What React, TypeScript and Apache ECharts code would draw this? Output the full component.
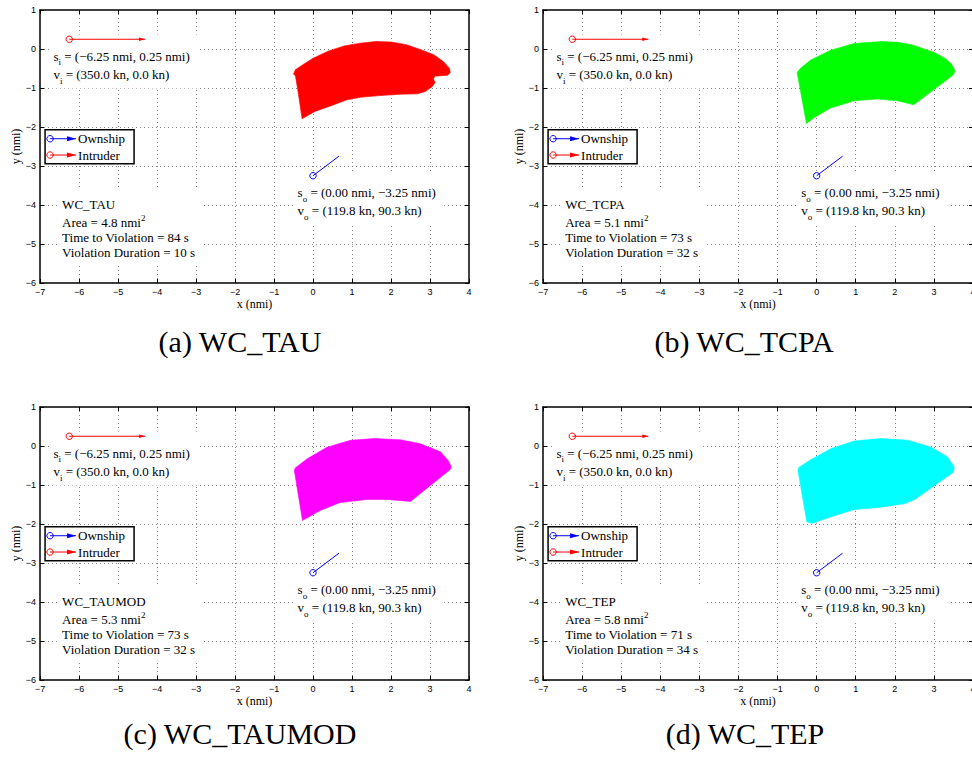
import React, { useEffect, useRef } from 'react';
import * as echarts from 'echarts';

// ---------------- data ----------------
const PANEL_LETTERS = ['a', 'b', 'c', 'd'];
const PANEL_NAMES = ['WC_TAU', 'WC_TCPA', 'WC_TAUMOD', 'WC_TEP'];
const AREAS = [4.8, 5.1, 5.3, 5.8];
const TIME_TO_VIOLATION = [84, 73, 73, 71];
const VIOLATION_DURATION = [10, 32, 32, 34];
const REGION_COLORS = ['#ff0000', '#00ff00', '#ff00ff', '#00ffff'];

const REGION_TAU = [
  [-0.50, -0.64], [-0.45, -0.53], [-0.24, -0.39], [0.0, -0.24], [0.40, -0.05], [0.80, 0.08],
  [1.21, 0.15], [1.60, 0.19], [2.00, 0.18], [2.40, 0.11], [2.80, -0.03], [3.10, -0.15],
  [3.35, -0.33], [3.50, -0.50], [3.52, -0.60], [3.46, -0.67], [3.12, -0.70], [3.09, -0.77],
  [3.13, -0.86], [3.06, -0.96], [2.88, -1.09], [2.68, -1.15], [2.24, -1.16], [1.64, -1.20],
  [1.21, -1.24], [0.85, -1.31], [0.45, -1.46], [0.05, -1.60], [-0.28, -1.79], [-0.39, -1.05],
  [-0.45, -0.69],
];
const REGION_TCPA = [
  [-0.50, -0.60], [-0.42, -0.50], [-0.15, -0.28], [0.36, -0.03], [0.96, 0.14], [1.64, 0.19],
  [2.10, 0.17], [2.50, 0.09], [3.01, -0.09], [3.30, -0.25], [3.46, -0.40], [3.54, -0.56],
  [3.50, -0.66], [2.48, -1.43], [2.07, -1.33], [1.56, -1.28], [0.96, -1.33], [0.36, -1.51],
  [-0.07, -1.76], [-0.26, -1.91],
];
const REGION_TAUMOD = [
  [-0.48, -0.62], [-0.45, -0.56], [-0.15, -0.33], [0.36, -0.03], [0.96, 0.145], [1.56, 0.19],
  [2.24, 0.16], [2.75, 0.06], [3.27, -0.15], [3.47, -0.38], [3.54, -0.52], [3.52, -0.60],
  [2.50, -1.42], [1.90, -1.37], [1.39, -1.37], [0.70, -1.45], [0.19, -1.65], [-0.27, -1.91],
];
const REGION_TEP = [
  [-0.48, -0.62], [-0.46, -0.55], [-0.15, -0.35], [0.36, -0.07], [0.96, 0.13], [1.64, 0.19],
  [2.33, 0.15], [2.93, -0.03], [3.35, -0.28], [3.52, -0.54], [3.50, -0.67], [2.50, -1.38],
  [2.24, -1.48], [1.64, -1.57], [0.96, -1.63], [0.36, -1.82], [-0.11, -1.98], [-0.25, -1.95],
];
const REGIONS = [REGION_TAU, REGION_TCPA, REGION_TAUMOD, REGION_TEP];

const INTRUDER_POS = [-6.25, 0.25];
const INTRUDER_VEL = [350.0, 0.0];
const OWNSHIP_POS = [0.0, -3.25];
const OWNSHIP_VEL = [119.8, 90.3];
const VELOCITY_SECONDS = 20;
const LEGEND_LABELS = ['Ownship', 'Intruder'];

const X_MIN = -7, X_MAX = 4, Y_MIN = -6, Y_MAX = 1, TICK_STEP = 1;

// annotation anchors (data coordinates, top-left of the text boxes)
const INTRUDER_NOTE_AT = [-6.74, 0.37];
const OWNSHIP_NOTE_AT = [-0.48, -3.14];
const RESULT_NOTE_AT = [-6.51, -3.56];
const LEGEND_AT = [-6.87, -2.07];

// ---------------- layout / style ----------------
const GRID_POS = [[40, 10], [543, 10], [40, 407], [543, 407]];
const GRID_W = [429, 430, 429, 430];
const GRID_H = 273;
const CAPTION_POS = [[240, 341.5], [744, 341.5], [240, 733], [745, 733]];
const SERIF = '"Liberation Serif", "Times New Roman", serif';
const SANS = '"Liberation Sans", Arial, sans-serif';
const BLUE = '#0000ff';
const RED = '#ff0000';

const fmt = (v: number, d: number) => (v < 0 ? '\u2212' : '') + Math.abs(v).toFixed(d);
const tickFmt = (v: number) => (v < 0 ? '\u2212' + Math.abs(v) : String(v));

const RICH: any = {
  m: { fontFamily: SERIF, fontSize: 13, lineHeight: 18, fill: '#000', color: '#000' },
  sub: { fontFamily: SERIF, fontSize: 9, lineHeight: 18, padding: [12, 0, 0, 0], fill: '#000', color: '#000' },
  sup: { fontFamily: SERIF, fontSize: 9, lineHeight: 18, padding: [0, 0, 9, 0], fill: '#000', color: '#000' },
};

function textEl(x: number, y: number, text: string) {
  return {
    type: 'text',
    x,
    y,
    style: {
      text,
      rich: RICH,
      fill: '#000',
      fontFamily: SERIF,
      fontSize: 13,
      align: 'left',
      verticalAlign: 'middle',
      textAlign: 'left',
      textVerticalAlign: 'middle',
    },
  };
}

function noteLines(i: number, kind: number): string[] {
  if (kind === 0) {
    return [
      `{m|s}{sub|i}{m| = (${fmt(INTRUDER_POS[0], 2)} nmi, ${fmt(INTRUDER_POS[1], 2)} nmi)}`,
      `{m|v}{sub|i}{m| = (${fmt(INTRUDER_VEL[0], 1)} kn, ${fmt(INTRUDER_VEL[1], 1)} kn)}`,
    ];
  }
  if (kind === 1) {
    return [
      `{m|s}{sub|o}{m| = (${fmt(OWNSHIP_POS[0], 2)} nmi, ${fmt(OWNSHIP_POS[1], 2)} nmi)}`,
      `{m|v}{sub|o}{m| = (${fmt(OWNSHIP_VEL[0], 1)} kn, ${fmt(OWNSHIP_VEL[1], 1)} kn)}`,
    ];
  }
  return [
    `{m|${PANEL_NAMES[i]}}`,
    `{m|Area = ${AREAS[i].toFixed(1)} nmi}{sup|2}`,
    `{m|Time to Violation = ${TIME_TO_VIOLATION[i]} s}`,
    `{m|Violation Duration = ${VIOLATION_DURATION[i]} s}`,
  ];
}

const NOTE_BOX = [
  { w: 150, h: 54, tx: 3.3, ty: [21.5, 40] },
  { w: 150, h: 54, tx: 3.3, ty: [21.5, 39.5] },
  { w: 144, h: 78, tx: 3, ty: [17, 35, 50, 65] },
];

function arrowHead(ex: number, ey: number, ux: number, uy: number, len: number, half: number) {
  return [
    [ex, ey],
    [ex - ux * len - uy * half, ey - uy * len + ux * half],
    [ex - ux * len + uy * half, ey - uy * len - ux * half],
  ];
}

function buildOption() {
  const grid: any[] = [];
  const xAxis: any[] = [];
  const yAxis: any[] = [];
  const series: any[] = [];
  const axisLine = { show: true, onZero: false, lineStyle: { color: '#000', width: 1.5 } };
  const axisTick = { show: true, inside: true, length: 4, lineStyle: { color: '#000', width: 1 } };
  const splitLine = {
    show: true,
    showMinLine: false,
    showMaxLine: false,
    lineStyle: { color: '#808080', type: [1, 3], width: 1 },
  };
  const label = { show: true, formatter: tickFmt, fontFamily: SANS, fontSize: 9, color: '#000', margin: 4 };

  for (let i = 0; i < 4; i++) {
    grid.push({
      left: GRID_POS[i][0], top: GRID_POS[i][1], width: GRID_W[i], height: GRID_H,
      containLabel: false, outerBoundsMode: 'none',
    });
    xAxis.push({
      gridIndex: i, type: 'value', min: X_MIN, max: X_MAX, interval: TICK_STEP, position: 'bottom',
      axisLine, axisTick, axisLabel: label, splitLine,
      name: 'x (nmi)', nameLocation: 'middle', nameGap: 15,
      nameTextStyle: { fontFamily: SERIF, fontSize: 12, color: '#000' },
    });
    xAxis.push({
      gridIndex: i, type: 'value', min: X_MIN, max: X_MAX, interval: TICK_STEP, position: 'top',
      axisLine, axisTick, axisLabel: { show: false }, splitLine: { show: false },
    });
    yAxis.push({
      gridIndex: i, type: 'value', min: Y_MIN, max: Y_MAX, interval: TICK_STEP, position: 'left',
      axisLine, axisTick, axisLabel: label, splitLine,
      name: 'y (nmi)', nameLocation: 'middle', nameGap: 18, nameRotate: 90,
      nameTextStyle: { fontFamily: SERIF, fontSize: 12, color: '#000' },
    });
    yAxis.push({
      gridIndex: i, type: 'value', min: Y_MIN, max: Y_MAX, interval: TICK_STEP, position: 'right',
      axisLine, axisTick, axisLabel: { show: false }, splitLine: { show: false },
    });

    const xi = i * 2;
    const yi = i * 2;

    // reachable violation region
    series.push({
      type: 'custom', coordinateSystem: 'cartesian2d', xAxisIndex: xi, yAxisIndex: yi,
      z: 2, silent: true, clip: false, data: REGIONS[i],
      renderItem: (params: any, api: any) => {
        if (params.dataIndex !== 0) return null;
        const pts = REGIONS[i].map((p) => api.coord(p));
        return {
          type: 'polygon',
          shape: { points: pts },
          style: { fill: REGION_COLORS[i], stroke: REGION_COLORS[i], lineWidth: 0.6 },
        };
      },
    });

    // annotation boxes
    series.push({
      type: 'custom', coordinateSystem: 'cartesian2d', xAxisIndex: xi, yAxisIndex: yi,
      z: 3, silent: true, clip: false,
      data: [
        [INTRUDER_NOTE_AT[0], INTRUDER_NOTE_AT[1], 0],
        [OWNSHIP_NOTE_AT[0], OWNSHIP_NOTE_AT[1], 1],
        [RESULT_NOTE_AT[0], RESULT_NOTE_AT[1], 2],
      ],
      renderItem: (params: any, api: any) => {
        const kind = api.value(2);
        const p = api.coord([api.value(0), api.value(1)]);
        const box = NOTE_BOX[kind];
        const lines = noteLines(i, kind);
        const children: any[] = [
          { type: 'rect', shape: { x: p[0], y: p[1], width: box.w, height: box.h }, style: { fill: '#fff' } },
        ];
        lines.forEach((t, k) => children.push(textEl(p[0] + box.tx, p[1] + box.ty[k], t)));
        return { type: 'group', children };
      },
    });

    // position + velocity vectors
    const k = VELOCITY_SECONDS / 3600;
    series.push({
      type: 'custom', coordinateSystem: 'cartesian2d', xAxisIndex: xi, yAxisIndex: yi,
      z: 4, silent: true, clip: false,
      data: [
        [OWNSHIP_POS[0], OWNSHIP_POS[1], OWNSHIP_POS[0] + OWNSHIP_VEL[0] * k, OWNSHIP_POS[1] + OWNSHIP_VEL[1] * k, 0],
        [INTRUDER_POS[0], INTRUDER_POS[1], INTRUDER_POS[0] + INTRUDER_VEL[0] * k, INTRUDER_POS[1] + INTRUDER_VEL[1] * k, 1],
      ],
      renderItem: (params: any, api: any) => {
        const s = api.coord([api.value(0), api.value(1)]);
        const e = api.coord([api.value(2), api.value(3)]);
        const kind = api.value(4);
        const color = kind === 0 ? BLUE : RED;
        const dx = e[0] - s[0], dy = e[1] - s[1];
        const L = Math.hypot(dx, dy) || 1;
        const ux = dx / L, uy = dy / L;
        const children: any[] = [
          { type: 'line', shape: { x1: s[0], y1: s[1], x2: e[0], y2: e[1] }, style: { stroke: color, lineWidth: 1 } },
          { type: 'circle', shape: { cx: s[0], cy: s[1], r: 3.2 }, style: { stroke: color, fill: 'none', lineWidth: 1 } },
        ];
        if (kind === 1) {
          children.push({ type: 'polygon', shape: { points: arrowHead(e[0], e[1], ux, uy, 6, 1.8) }, style: { fill: color } });
        }
        return { type: 'group', children };
      },
    });

    // legend box
    series.push({
      type: 'custom', coordinateSystem: 'cartesian2d', xAxisIndex: xi, yAxisIndex: yi,
      z: 5, silent: true, clip: false,
      data: [[LEGEND_AT[0], LEGEND_AT[1]]],
      renderItem: (params: any, api: any) => {
        const p = api.coord([api.value(0), api.value(1)]);
        const children: any[] = [
          { type: 'rect', shape: { x: p[0], y: p[1], width: 89, height: 34 }, style: { fill: '#fff', stroke: '#000', lineWidth: 1.5 } },
        ];
        LEGEND_LABELS.forEach((lab, r) => {
          const color = r === 0 ? BLUE : RED;
          const cy = p[1] + 9 + r * 16.3;
          const x0 = p[0] + 5, x1 = p[0] + 31;
          children.push({ type: 'line', shape: { x1: x0, y1: cy, x2: x1, y2: cy }, style: { stroke: color, lineWidth: 1 } });
          children.push({ type: 'circle', shape: { cx: x0, cy, r: 3.2 }, style: { stroke: color, fill: 'none', lineWidth: 1 } });
          children.push({ type: 'polygon', shape: { points: arrowHead(x1, cy, 1, 0, 9, 2.5) }, style: { fill: color } });
          children.push(textEl(p[0] + 33, cy, `{m|${lab}}`));
        });
        return { type: 'group', children };
      },
    });
  }

  const graphic = PANEL_LETTERS.map((l, i) => ({
    type: 'text',
    x: CAPTION_POS[i][0],
    y: CAPTION_POS[i][1],
    style: {
      text: `(${l}) ${PANEL_NAMES[i]}`,
      fill: '#000',
      fontFamily: SERIF,
      fontSize: 30,
      align: 'center',
      verticalAlign: 'middle',
      textAlign: 'center',
      textVerticalAlign: 'middle',
    },
  }));

  return {
    animation: false,
    backgroundColor: '#fff',
    grid,
    xAxis,
    yAxis,
    series,
    graphic,
  };
}

export default function App() {
  const ref = useRef<HTMLDivElement>(null);
  useEffect(() => {
    const chart = echarts.init(ref.current as HTMLDivElement, null, { renderer: 'svg' });
    chart.setOption(buildOption() as any);
    return () => chart.dispose();
  }, []);
  return (
    <div
      ref={ref}
      style={{ position: 'absolute', left: 0, top: 0, width: 972, height: 757, background: '#fff' }}
    />
  );
}
